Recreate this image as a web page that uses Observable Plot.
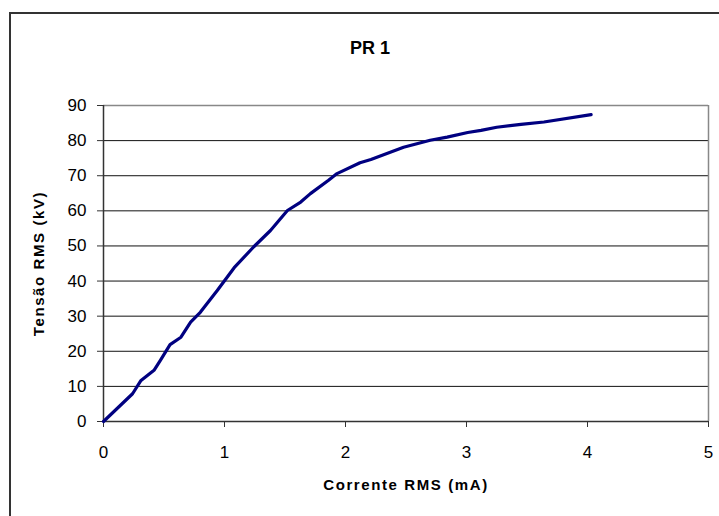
<!DOCTYPE html>
<html>
<head>
<meta charset="utf-8">
<script src="https://cdn.jsdelivr.net/npm/d3@7"></script>
<script src="https://cdn.jsdelivr.net/npm/@observablehq/plot@0.6"></script>
<style>
  html, body { margin: 0; padding: 0; background: #fff; }
  #wrap { position: relative; width: 719px; height: 516px; overflow: hidden; }
  #border { position: absolute; left: 9px; top: 12px; width: 800px; height: 600px;
            border-left: 2px solid #333; border-top: 2px solid #333; pointer-events: none; }
  svg { font-family: "Liberation Sans", Arial, sans-serif; }
</style>
</head>
<body>
<div id="wrap"><div id="border"></div></div>
<script>
const current = [0, 0.24, 0.31, 0.42, 0.47, 0.55, 0.64, 0.72, 0.80, 0.94, 1.08, 1.24, 1.38, 1.52, 1.63, 1.71, 1.86, 1.93, 2.12, 2.21, 2.48, 2.70, 2.84, 3.01, 3.12, 3.25, 3.45, 3.64, 4.03];
const voltage = [0, 7.9, 11.7, 14.7, 17.4, 21.9, 24.0, 28.3, 31.1, 37.3, 43.8, 49.7, 54.4, 60.1, 62.5, 64.9, 68.7, 70.6, 73.7, 74.6, 78.1, 80.1, 81.0, 82.3, 82.9, 83.8, 84.6, 85.3, 87.4];
const xTicks = [0, 1, 2, 3, 4, 5];
const yTicks = [0, 10, 20, 30, 40, 50, 60, 70, 80, 90];
const gridY = [10, 20, 30, 40, 50, 60, 70, 80];
const title = "PR 1";
const xLabel = "Corrente RMS (mA)";
const yLabel = "Tensão RMS (kV)";

const data = current.map((c, i) => ({x: c, y: voltage[i]}));

const mL = 103, mR = 11, mT = 105, mB = 95, W = 719, H = 516;

const chart = Plot.plot({
  width: W,
  height: H,
  marginLeft: mL,
  marginRight: mR,
  marginTop: mT,
  marginBottom: mB,
  style: {fontFamily: "Liberation Sans, Arial, sans-serif", background: "transparent"},
  x: {domain: [0, 5], ticks: xTicks, label: null},
  y: {domain: [0, 90], ticks: yTicks, label: null},
  marks: [
    Plot.ruleY(gridY, {stroke: "#111", strokeWidth: 1}),
    Plot.ruleY([90], {stroke: "#888", strokeWidth: 1.5}),
    Plot.ruleX([5], {stroke: "#888", strokeWidth: 1.5}),
    Plot.ruleX([0], {stroke: "#333", strokeWidth: 1.5}),
    Plot.ruleY([0], {stroke: "#333", strokeWidth: 1.5}),
    Plot.axisX({ticks: xTicks, tickFormat: d3.format("d"), tickSize: 6, tickPadding: 18, fontSize: 17, stroke: "#333", fill: "#000", label: null}),
    Plot.axisY({ticks: yTicks, tickFormat: d3.format("d"), tickSize: 6, tickPadding: 11, fontSize: 17, stroke: "#333", fill: "#000", label: null}),
    Plot.line(data, {x: "x", y: "y", stroke: "#000080", strokeWidth: 3.2, curve: "linear"}),
    Plot.text([title], {frameAnchor: "top", dx: -36, dy: -64, fontSize: 18, fontWeight: "bold", fill: "#000"}),
    Plot.text([xLabel], {frameAnchor: "bottom", dy: 68, fontSize: 15, fontWeight: "bold", fill: "#000"}),
    Plot.text([yLabel], {frameAnchor: "left", textAnchor: "middle", rotate: -90, fontSize: 15, fontWeight: "bold", fill: "#000"})
  ]
});
const yMid = (mT + (H - mB)) / 2;
d3.select(chart).selectAll("text").each(function() {
  const t = this.textContent;
  if (t === xLabel || t === yLabel) this.style.letterSpacing = "1.6px";
  if (t === yLabel) {
    this.removeAttribute("x");
    this.removeAttribute("y");
    this.setAttribute("text-anchor", "middle");
    this.setAttribute("transform", `translate(${mL - 60},${yMid}) rotate(-90)`);
  }
});
document.getElementById("wrap").prepend(chart);
</script>
</body>
</html>
